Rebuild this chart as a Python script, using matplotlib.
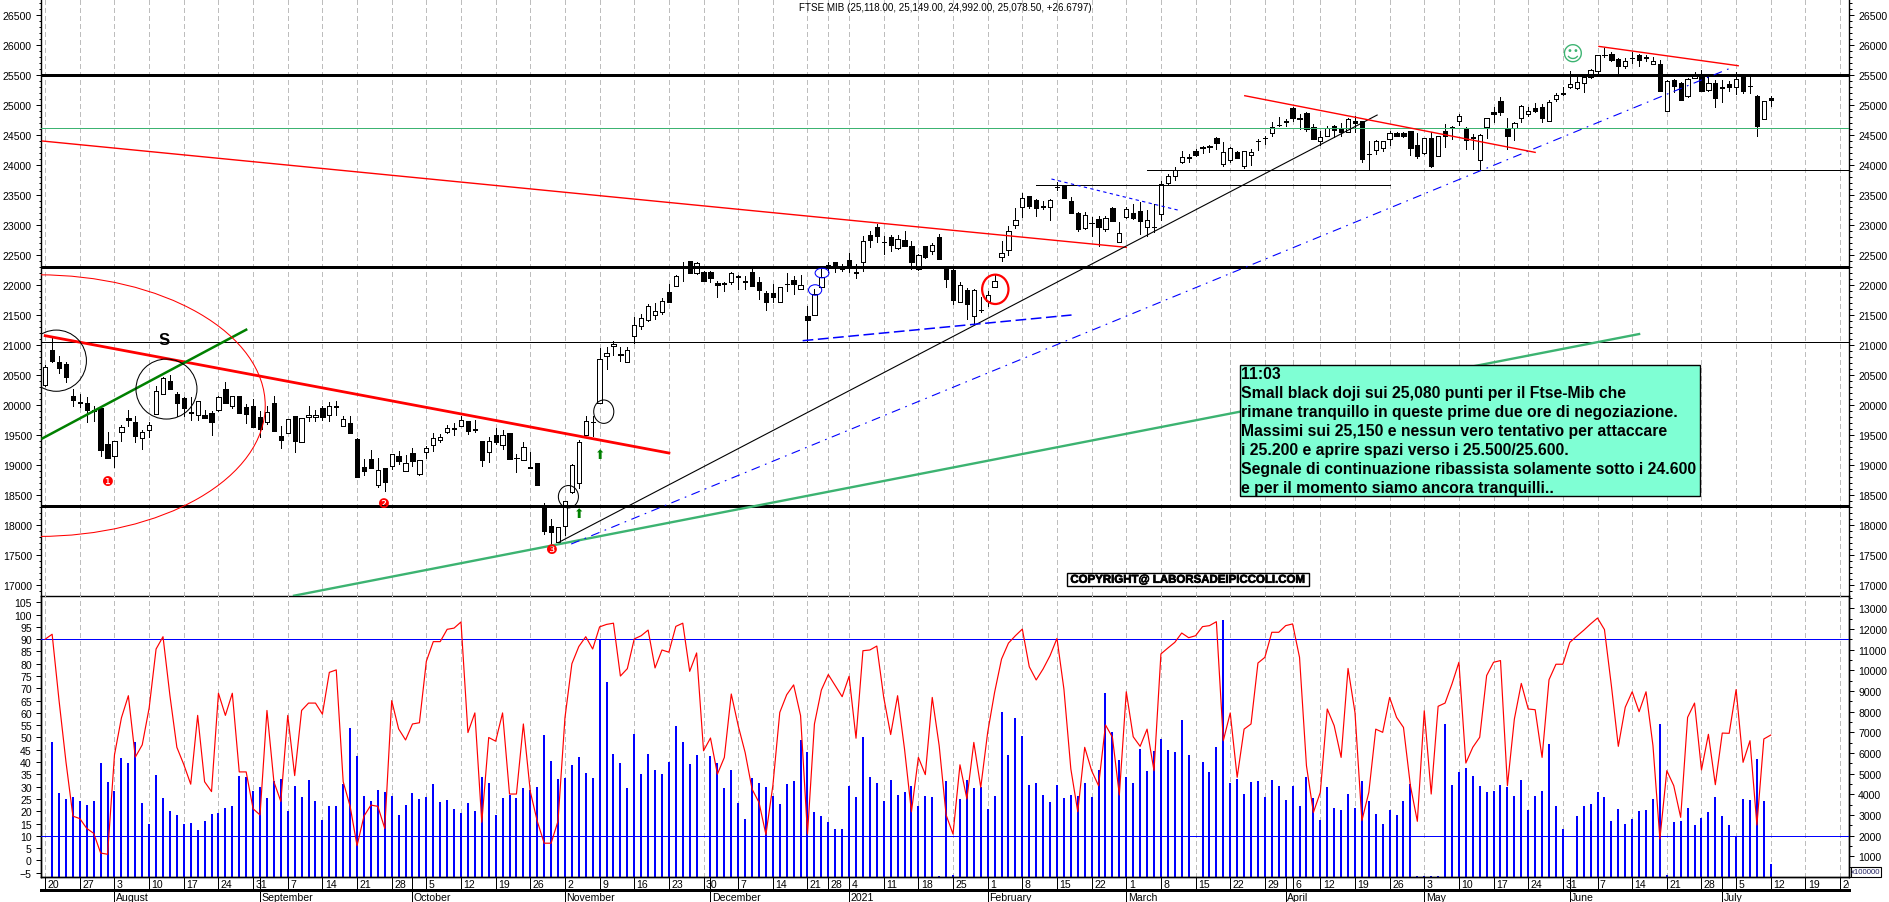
import numpy as np
import pandas as pd
import matplotlib
matplotlib.use("Agg")
import matplotlib.pyplot as plt
import matplotlib.patheffects as pe
from matplotlib.patches import Ellipse, Rectangle
from matplotlib.ticker import MultipleLocator

plt.rcParams['font.family'] = ['Liberation Sans', 'DejaVu Sans']

# ---------------------------------------------------------------- data
title = "FTSE MIB (25,118.00, 25,149.00, 24,992.00, 25,078.50, +26.6797)"
note_lines = ["11:03",
              "Small black doji sui 25,080 punti per il Ftse-Mib che",
              "rimane tranquillo in queste prime due ore di negoziazione.",
              "Massimi sui 25,150 e nessun vero tentativo per attaccare",
              "i 25.200 e aprire spazi verso i 25.500/25.600.",
              "Segnale di continuazione ribassista solamente sotto i 24.600",
              "e per il momento siamo ancora tranquilli.."]
copyright_text = "COPYRIGHT@ LABORSADEIPICCOLI.COM"
holidays = ["2020-12-24", "2020-12-25", "2020-12-31", "2021-01-01", "2021-04-02", "2021-04-05"]
month_names = {8: "August", 9: "September", 10: "October", 11: "November", 12: "December", 1: "2021",
               2: "February", 3: "March", 4: "April", 5: "May", 6: "June", 7: "July"}

opens = [20340,20920,20710,20683,20155,20050,20033,19910,19950,19350,19155,19544,19778,19711,19444,19589,19855,20189,20394,20183,
20111,19880,19839,19828,19866,19922,20266,19989,20144,19961,19983,19794,19722,20033,19478,19539,19811,19389,19805,19805,
19944,19839,19989,19655,19700,19433,18966,19100,18666,18950,18977,19144,18905,19194,18850,19222,19339,19425,19544,19611,
19655,19733,19605,19400,19222,19494,19339,19533,19116,19089,18975,19027,18322,17977,17711,17977,18555,18694,19505,19710,
20028,20811,20978,20850,20722,21156,21322,21422,21506,21545,21878,21989,22325,22395,22194,22211,22211,22033,22030,22045,
22150,22065,22211,22045,21867,21867,21722,22020,22083,21939,21478,21506,21967,22289,22389,22322,22417,22222,22378,22833,
22961,22725,22794,22622,22750,22645,22267,22645,22572,22794,22261,22250,21722,21922,21489,21585,21739,21961,22461,22578,
23006,23295,23489,23417,23315,23306,23640,23656,23395,23195,22945,23035,23106,22928,23278,22722,23133,23200,23228,22961,
22970,23178,23695,23811,24045,24130,24228,24298,24310,24450,24016,24077,24211,23983,24166,24408,24452,24538,24670,24730,
24950,24780,24866,24627,24394,24488,24644,24611,24555,24738,24727,24190,24255,24283,24438,24527,24527,24561,24333,24205,
24450,24155,24561,24640,24738,24611,24465,24083,24633,24877,25060,24611,24616,24777,24850,24950,24961,24727,25105,25197,
25294,25283,25361,25461,25572,25840,25850,25761,25655,25790,25838,25796,25688,25677,24905,25422,25361,25150,25450,25488,
25255,25361,25296,25344,25294,25461,25313,25144,24761,25118]
highs = [20660,21150,20822,20710,20266,20183,20128,19989,19989,19544,19405,19666,19916,19822,19589,19711,20322,20461,20500,20211,
20128,20128,20072,19922,19905,20155,20378,20144,20144,20011,20100,19905,19989,20144,19655,19766,19822,19783,19989,19922,
19978,20044,20066,19811,19811,19450,19100,19250,19116,18950,19189,19227,19166,19277,19089,19322,19527,19516,19672,19700,
19822,19733,19750,19400,19461,19611,19583,19533,19183,19378,19210,19027,18366,18100,17961,18405,19016,19411,19811,19822,
20950,20961,21072,20961,20972,21461,21517,21683,21700,21783,22017,22167,22389,22406,22389,22239,22239,22072,22056,22211,
22167,22145,22294,22128,21906,22017,21961,22200,22156,22167,21645,21933,22267,22378,22389,22350,22533,22350,22811,22906,
23017,22811,22833,22833,22906,22739,22517,22656,22700,22850,22261,22267,22056,21945,21933,21794,21906,22167,22739,22978,
23283,23528,23489,23433,23406,23433,23711,23667,23472,23211,23211,23128,23156,23156,23294,23044,23294,23350,23378,23250,
23350,23739,23850,23961,24239,24183,24267,24322,24333,24461,24377,24294,24227,24228,24266,24433,24488,24722,24794,24766,
24961,24850,24877,24683,24572,24655,24666,24700,24777,24822,24738,24405,24416,24405,24572,24544,24544,24572,24527,24450,
24544,24488,24683,24655,24850,24638,24516,24516,24788,24961,25127,24777,24716,25000,24961,25033,25016,25083,25200,25294,
25566,25477,25461,25600,25838,25944,25877,25777,25783,25888,25850,25833,25794,25755,25422,25433,25377,25444,25544,25588,
25488,25416,25416,25405,25544,25477,25461,25166,25072,25149]
lows = [20320,20710,20533,20389,19989,19961,19722,19739,19144,19111,18961,19405,19655,19378,19266,19461,19855,20178,20266,19822,
19822,19750,19750,19783,19500,19905,20039,19950,19866,19700,19633,19461,19683,19566,19289,19539,19222,19389,19727,19727,
19755,19739,19839,19655,19539,18800,18833,18950,18627,18572,18933,19016,18905,18989,18833,19122,19227,19378,19533,19505,
19655,19516,19544,18988,19055,19350,19266,19105,18878,19089,18950,18672,17850,17683,17711,17833,18533,18611,19505,19489,
20028,20600,20833,20739,20722,21033,21267,21406,21433,21517,21722,21989,22072,22200,22183,22072,22045,21806,21906,22017,
21933,21933,21983,21767,21583,21711,21711,21906,21850,21939,21061,21506,21967,22222,22222,22239,22222,22122,22239,22639,
22722,22517,22572,22600,22656,22267,22256,22450,22517,22439,21961,21683,21711,21433,21350,21544,21656,21961,22406,22500,
22950,23128,23283,23156,23267,23089,23589,23450,23195,22906,22933,22822,22656,22906,23072,22722,23117,23100,22850,22822,
22878,23089,23683,23756,24033,24045,24156,24194,24222,24266,23988,24044,24111,23955,24005,24255,24350,24488,24655,24655,
24738,24600,24572,24433,24333,24488,24461,24477,24544,24544,24055,23933,24183,24238,24333,24477,24472,24166,24111,24183,
23972,24144,24294,24433,24666,24266,24266,23916,24444,24711,24833,24266,24422,24711,24811,24877,24711,24727,25061,25166,
25277,25266,25222,25444,25533,25805,25727,25533,25622,25694,25655,25738,25683,25238,24905,25222,25083,25138,25444,25238,
25238,24972,25055,25238,25183,25200,25194,24488,24761,24992]
closes = [20640,20730,20622,20472,20089,20040,19922,19900,19255,19111,19394,19628,19755,19489,19544,19672,20228,20444,20266,20039,
19955,19865,20072,19783,19722,20128,20039,20144,19866,19855,19633,19600,19878,19566,19422,19761,19400,19778,19839,19839,
19800,19978,19975,19761,19539,18800,18900,18950,18922,18722,19178,19072,19027,19066,19089,19277,19444,19461,19611,19600,
19750,19566,19590,19089,19394,19389,19494,19105,19110,19305,18950,18672,17905,17889,17961,18405,19005,19378,19739,19722,
20761,20861,21017,20840,20916,21339,21445,21645,21561,21728,21722,22156,22315,22200,22361,22072,22122,21995,22025,22194,
22140,22055,21983,21922,21722,21795,21961,22012,22022,21995,21422,21850,22128,22334,22278,22261,22333,22200,22739,22756,
22822,22720,22667,22761,22656,22389,22506,22461,22661,22439,22100,21756,22006,21683,21922,21580,21839,22072,22539,22906,
23089,23445,23322,23278,23308,23422,23630,23456,23195,22933,23167,23030,22961,23111,23072,22861,23272,23111,23061,23089,
22960,23689,23822,23922,24128,24125,24167,24290,24300,24372,24211,24278,24122,24228,24222,24402,24448,24638,24660,24725,
24783,24775,24594,24438,24461,24616,24588,24544,24760,24700,24105,24185,24405,24394,24527,24488,24477,24288,24155,24444,
23983,24477,24488,24636,24822,24416,24458,24494,24777,24850,24888,24488,24705,24988,24905,24905,24788,25055,25172,25190,
25344,25388,25461,25588,25827,25835,25750,25655,25738,25786,25744,25792,25727,25238,25405,25322,25088,25433,25488,25238,
25361,25111,25292,25305,25438,25238,25309,24655,25061,25078.5]

oscillator = [90,92,65,40,18,17,13,11,3,2.5,43,58,67,42,47,62,86,91,67,46,
39,31,59,32,28,68,59,68,36,36,21,18.5,61,32,24,59,34.5,61,64,64,
59.5,76.5,77.5,32,22,6,18,22.5,22,13,65,53.5,49,55.5,56,81,89,89,94,94.5,
97,52,60,15.5,50,48.5,60,27,27,55.5,28,16,7,7,16,58,80,87,91,86,
95,96,96.5,75,78,90.1,91.4,93.7,78.3,85.6,84.7,95.2,96.5,76.9,84.4,44.6,49.8,35.1,41.9,67.7,
54.8,43.9,29,23.6,10.5,30.4,60.2,67.4,71.4,58.9,10.7,55.5,69.3,75.6,71.1,66.6,74.9,49.7,85.3,85.6,
87.2,66.3,51.2,67,45.3,19.8,41.9,34.9,66.3,46.7,18.5,10.7,38.9,25,48,29.7,52.1,68.4,81.9,88.4,
91.4,94.1,78.8,73.4,77.9,83.3,90.3,69.7,37.2,19.8,46,36.5,30.4,55.1,50.1,26.6,68.6,50.3,46.4,53.4,
36.5,84,86.4,88.7,92.5,90.6,91.4,95.1,95.5,97.1,48.7,60,33.8,53.4,55.5,80.3,82.6,92.8,92.8,95.5,
96.2,82.6,38.5,19.5,27.7,61.6,54.8,41.9,78.1,60.2,16.2,27.7,53.4,52.1,66.3,58.2,54.1,30.4,15.9,60.9,
27,62.7,64,71.8,80.6,39.6,46,50.1,75.2,80.6,81.3,30.4,57.5,72,61.6,61.3,41.9,73.5,79.8,79.8,
88.7,91.2,93.6,96.2,98.6,93.9,71.1,46.4,62.3,68.6,60.5,68.6,46.7,8.7,36.5,30.4,17.5,58.2,64,36.8,
51.3,30.8,51.8,51.7,69.5,39.9,48.7,14.4,49.4,51]

volume = [0,6533,4081,3790,3871,3678,3468,3694,5533,4613,4162,5758,5516,6517,3581,2581,4936,3823,3210,3016,
2549,2613,2290,2710,3065,3097,3355,3436,4904,4839,4178,4371,3823,4645,4758,3194,4420,3871,4694,3678,
2774,3452,3436,4516,7210,5871,3920,3678,4210,4129,3920,3000,3484,4065,3775,3887,4484,3629,3742,3307,
3113,3581,3178,4839,4565,2984,3839,3984,3839,4323,4226,4371,6888,5613,4758,4807,5436,5807,5033,4807,
11452,9452,5952,5533,4307,6936,5000,5968,5194,5000,5565,7323,6533,5484,5920,0,5871,5533,4323,5178,
3597,2823,4807,4565,4371,3920,3549,4516,4662,6646,6049,3145,2968,2645,2339,2339,4420,3887,6791,4855,
4565,3678,4710,3984,4113,4404,3436,3920,3871,65,4662,81,3758,4678,4307,4371,3307,3936,7984,5920,
7710,6839,4468,4565,3984,3629,4468,3807,3984,3920,4565,3871,5178,8920,7017,5662,4855,4565,6194,5129,
6081,6678,6146,6065,7597,5920,0,5581,5081,6307,12452,4565,4742,4033,4597,4645,3871,4694,4420,3742,
4420,3436,4839,3823,2774,4355,3355,3242,4033,3339,4662,3678,3065,2565,3258,3016,3678,4484,48,48,
48,48,7420,4468,5097,5291,4904,4420,4129,4178,4452,4339,3920,4710,3226,3936,4178,6452,3452,2339,
0,2952,3452,3533,4113,3887,2710,3307,2565,2823,3194,3226,3790,7420,81,2661,2726,3355,2516,2855,
3145,3871,2952,2516,1968,3758,3726,5726,3694,645]

# horizontal levels: (price, first bar or None, last bar or None, width in points, colour)
levels = [(25500, None, None, 1.8, "black"), (24625, None, None, 0.72, "#3cb371"), (23922, 159, None, 0.72, "black"),
          (23660, 143, 194, 0.72, "black"), (22300, None, None, 1.8, "black"), (21055, None, None, 0.72, "black"),
          (18315, None, None, 1.8, "black")]
# hand-drawn trend lines: (bar, price, bar, price, width, colour, style)
trendlines = [(-0.4, 24400, 156, 22628, 1.0, "#ff0000", "-"),
              (0, 21155, 90, 19200, 2.0, "#ff0000", "-"),
              (-0.4, 19444, 29, 21255, 1.8, "#008000", "-"),
              (35.9, 16822, 230, 21183, 1.7, "#3cb371", "-"),
              (74.1, 17711, 192.2, 24833, 0.8, "black", "-"),
              (75.9, 17683, 243.2, 25616, 0.8, "#0000ff", (0, (8, 5, 1.5, 5))),
              (109.3, 21072, 148.1, 21500, 1.1, "#0000ff", (0, (7, 3))),
              (145.2, 23767, 163.8, 23239, 0.8, "#0000ff", (0, (3, 3))),
              (173.1, 25155, 215, 24211, 1.0, "#ff0000", "-"),
              (224.2, 25977, 244.3, 25655, 1.0, "#ff0000", "-")]
# ellipses: (centre bar, centre price, width in bars, height in price, colour, line width)
ellipses = [(-1, 19990, 65.5, 4360, "#ff0000", 0.75),
            (1.6, 20739, 8.7, 1020, "black", 0.75),
            (17.5, 20266, 8.8, 1000, "black", 0.75),
            (75.5, 18472, 2.9, 373, "black", 0.75),
            (80.6, 19889, 2.9, 390, "black", 0.75),
            (112.1, 22200, 2.0, 160, "#0000ff", 0.75),
            (111.1, 21917, 1.9, 175, "#0000ff", 0.75),
            (137.1, 21928, 3.8, 489, "#ff0000", 1.6)]
# chart signs: (bar, price, text, colour, size, font)
signs = [(8.9, 18727, "\u2776", "#ff0000", 9.5, "DejaVu Sans"),
         (48.9, 18361, "\u2777", "#ff0000", 9.5, "DejaVu Sans"),
         (73, 17600, "\u2778", "#ff0000", 9.5, "DejaVu Sans"),
         (77, 18194, "\u2b06", "#008000", 9, "DejaVu Sans"),
         (80.1, 19172, "\u2b06", "#008000", 9, "DejaVu Sans"),
         (220.3, 25850, "\u263a", "#3cb371", 15, "DejaVu Sans"),
         (17.2, 21100, "S", "black", 12, "Liberation Sans")]

# ---------------------------------------------------------------- layout
W, H = 1890, 903
LEFT, RIGHT, SPLIT, BOTTOM = 41, 1849, 597, 878
X0, STEP = 45.2, 6.93
XLIM = ((LEFT - X0) / STEP, (RIGHT - X0) / STEP)
GRID = "#bdbdbd"
PX = 0.72   # one pixel in points


def make_axes(top, bottom):
    return fig.add_axes([LEFT / W, 1 - bottom / H, (RIGHT - LEFT) / W, (bottom - top) / H])


def fig_text(x, y, s, **kw):
    return fig.text(x / W, 1 - y / H, s, **kw)


fig = plt.figure(figsize=(W / 100, H / 100), dpi=100, facecolor="white")
ax = make_axes(0, SPLIT)
ax_lo = make_axes(SPLIT, BOTTOM)
ax_vol = ax_lo.twinx()
ax_t = fig.add_axes([LEFT / W, 0, (RIGHT - LEFT) / W, (H - BOTTOM) / H])

# calendar -> week and month ticks
days = pd.bdate_range("2020-07-20", "2021-07-30")
days = days[~days.isin(pd.to_datetime(holidays))]
week_idx, month_idx = [], []
for k, d in enumerate(days):
    if k == 0 or d.isocalendar()[1] != days[k - 1].isocalendar()[1]:
        week_idx.append(k)
    if k > 0 and d.month != days[k - 1].month:
        month_idx.append(k)

# price pane ------------------------------------------------------
n = len(closes)
xs = np.arange(n)
o, h, l, c = map(np.array, (opens, highs, lows, closes))
for a in (ax, ax_vol):
    a.vlines(week_idx, 0, 1, transform=a.get_xaxis_transform(), color=GRID, lw=PX,
             linestyles=(0, (5, 4)), zorder=0, antialiased=False)

ax.vlines(xs, l, h, color="black", lw=PX, zorder=3, antialiased=False)
up = c >= o
tops = np.maximum(o, c)
bots = np.minimum(o, c)
ax.bar(xs, tops - bots, bottom=bots, width=0.62, color=np.where(up, "white", "black"),
       edgecolor="black", linewidth=PX, zorder=4, antialiased=False)

for price, start, end, lw, col in levels:
    x1 = XLIM[0] if start is None else start
    x2 = XLIM[1] if end is None else end
    ax.plot([x1, x2], [price, price], color=col, lw=lw, zorder=5, antialiased=False)
for x1, y1, x2, y2, lw, col, ls in trendlines:
    ax.plot([x1, x2], [y1, y2], color=col, lw=lw, ls=ls, zorder=5)
for cx, cy, w, hh, col, lw in ellipses:
    ax.add_patch(Ellipse((cx, cy), w, hh, fill=False, edgecolor=col, lw=lw, zorder=6))
for bx, by, s, col, size, fam in signs:
    ax.text(bx, by, s, color=col, fontsize=size, family=fam, ha="center", va="center", zorder=7,
            fontweight="bold" if s == "S" else "normal")

ax.set_xlim(*XLIM)
ax.set_ylim(16817, 26767)
ax.set_xticks([])
ax.yaxis.set_major_locator(MultipleLocator(500))
ax.yaxis.set_minor_locator(MultipleLocator(100))
ax.tick_params(axis="y", which="major", left=True, right=True, labelleft=True, labelright=True,
               length=3.6, width=PX, labelsize=7.6, pad=3)
ax.tick_params(axis="y", which="minor", left=True, right=True, length=1.8, width=PX)
ax.spines["top"].set_visible(False)
for s in ("left", "right", "bottom"):
    ax.spines[s].set_linewidth(1.0)

# lower pane ------------------------------------------------------
ax_vol.vlines(xs, 0, volume, color="#0000ff", lw=2 * PX, zorder=2, antialiased=False)
ax_vol.set_xlim(*XLIM)
ax_vol.set_ylim(0, 13590)
ax_vol.set_yticks(list(range(1000, 14000, 1000)))
ax_vol.yaxis.set_minor_locator(MultipleLocator(500))
ax_vol.tick_params(axis="y", which="major", length=3.6, width=PX, labelsize=7.6, pad=3)
ax_vol.tick_params(axis="y", which="minor", length=1.8, width=PX)

ax_lo.set_zorder(ax_vol.get_zorder() + 1)
ax_lo.patch.set_visible(False)
ax_lo.axhline(90, color="#0000ff", lw=PX, zorder=3, antialiased=False)
ax_lo.axhline(10, color="#0000ff", lw=PX, zorder=3, antialiased=False)
ax_lo.plot(xs, oscillator, color="#ff0000", lw=0.85, zorder=4)
ax_lo.set_xlim(*XLIM)
ax_lo.set_ylim(-6.75, 107.56)
ax_lo.set_xticks([])
ax_lo.yaxis.set_major_locator(MultipleLocator(5))
ax_lo.tick_params(axis="y", which="major", length=3.6, width=PX, labelsize=7.6, pad=3)
for a in (ax_lo, ax_vol):
    a.spines["top"].set_visible(False)
    for s in ("left", "right", "bottom"):
        a.spines[s].set_linewidth(1.0)

# time axis -------------------------------------------------------
ax_t.set_xlim(*XLIM)
ax_t.set_ylim(H, BOTTOM)
ax_t.axis("off")
ROW = 891
ax_t.plot(XLIM, [ROW, ROW], color="black", lw=1.0, clip_on=False, antialiased=False)
week_in_view = [k for k in week_idx if k < XLIM[1]]
ax_t.vlines(week_in_view, BOTTOM, ROW, color="black", lw=PX, antialiased=False)
ax_t.vlines(month_idx, BOTTOM, H, color="black", lw=PX, antialiased=False)
for k in week_in_view:
    ax_t.text(k + 0.35, 885, str(days[k].day), fontsize=7.6, ha="left", va="center", clip_on=True)
for k in month_idx:
    ax_t.text(k + 0.2, 898, month_names[days[k].month], fontsize=7.6, ha="left", va="center")

# texts and boxes -------------------------------------------------
fig_text(945, 8, title, fontsize=7.15, ha="center", va="center")
fig.add_artist(Rectangle((1239.5 / W, 1 - 497 / H), 460.5 / W, 131 / H, transform=fig.transFigure,
                         facecolor="#7fffd4", edgecolor="black", lw=1.0, zorder=10))
for k, line in enumerate(note_lines):
    fig_text(1241.5, 374.5 + 19 * k, line, fontsize=11.3, fontweight="bold", ha="left", va="center", zorder=11)
fig.add_artist(Rectangle((1067 / W, 1 - 587 / H), 242 / W, 13 / H, transform=fig.transFigure,
                         facecolor="white", edgecolor="black", lw=1.0, zorder=10))
fig_text(1188, 580.8, copyright_text, fontsize=8.25, fontweight="bold", ha="center", va="center", zorder=11,
         path_effects=[pe.withStroke(linewidth=0.5, foreground="black")])
fig.add_artist(Rectangle((1851 / W, 1 - 878 / H), 30.5 / W, 10 / H, transform=fig.transFigure,
                         facecolor="white", edgecolor="black", lw=0.8, zorder=10))
fig_text(1866, 873, "x100000", fontsize=5.6, color="#202060", ha="center", va="center", zorder=11)

fig.savefig("out.png", dpi=100)
